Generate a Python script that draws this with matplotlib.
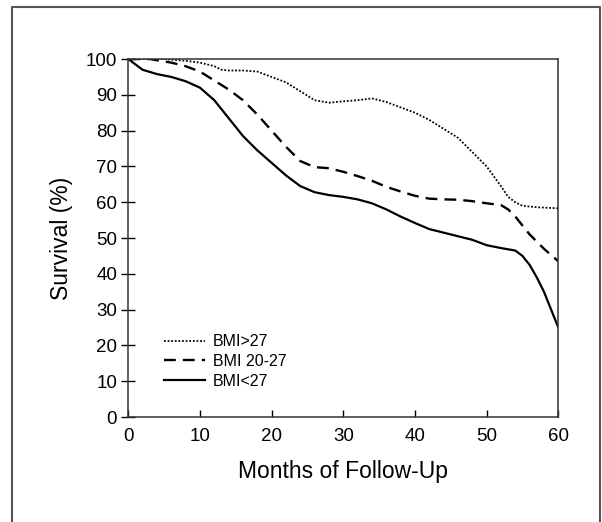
import matplotlib.pyplot as plt
from matplotlib.lines import Line2D

plt.rcParams["font.family"] = ["Liberation Sans", "DejaVu Sans"]

months_low = [0, 2, 4, 6, 8, 10, 12, 14, 16, 18, 20, 22, 24, 26, 28, 30, 32, 34,
              36, 38, 40, 42, 44, 46, 48, 50, 52, 54, 55, 56, 57, 58, 59, 60]
surv_low = [100, 97, 95.8, 95, 93.8, 92, 88.5, 83.5, 78.5, 74.5, 71, 67.5, 64.5,
            62.8, 62, 61.5, 60.8, 59.7, 58, 56, 54.2, 52.5, 51.5, 50.5, 49.5, 48,
            47.2, 46.5, 45, 42.5, 39, 35, 30, 25]

months_mid = [0, 3, 6, 8, 10, 12, 14, 16, 18, 20, 22, 24, 26, 28, 30, 32, 34, 36,
              38, 40, 42, 44, 46, 48, 50, 52, 53, 54, 56, 58, 60]
surv_mid = [100, 100, 99, 98, 96.5, 94, 91.5, 88.5, 84.5, 80, 75.5, 71.5, 69.8,
            69.5, 68.5, 67.3, 66, 64.3, 63, 61.8, 61, 60.8, 60.7, 60.3, 59.7, 59.2,
            58, 56, 51, 47, 43.5]

months_high = [0, 5, 8, 10, 12, 13, 14, 16, 18, 20, 22, 24, 26, 28, 30, 32, 34, 36,
               38, 40, 42, 44, 46, 48, 50, 52, 53, 54, 55, 57, 60]
surv_high = [100, 100, 99.5, 99, 98, 97, 96.8, 96.8, 96.5, 95, 93.5, 91, 88.5,
             87.8, 88.2, 88.5, 89, 88, 86.5, 85, 83, 80.5, 78, 74, 70, 64.5, 61.5,
             60, 59, 58.6, 58.3]

labels = ["BMI>27", "BMI 20-27", "BMI<27"]
x_ticks = [0, 10, 20, 30, 40, 50, 60]
y_ticks = [0, 10, 20, 30, 40, 50, 60, 70, 80, 90, 100]

fig = plt.figure(figsize=(6.02, 5.22), dpi=100)
ax = fig.add_axes([0.2131, 0.2011, 0.7143, 0.6858])

ax.plot(months_high, surv_high, color="black", lw=1.3, ls=(0, (1, 1)), label=labels[0])
ax.plot(months_mid, surv_mid, color="black", lw=1.7, ls=(0, (5, 3)), label=labels[1])
ax.plot(months_low, surv_low, color="black", lw=1.6, ls="-", label=labels[2])

ax.set_xlim(0, 60)
ax.set_ylim(0, 100)
ax.set_xticks(x_ticks)
ax.set_yticks(y_ticks)
ax.tick_params(axis="x", direction="in", length=5, width=1, pad=8, labelsize=13.5)
ax.tick_params(axis="y", direction="inout", length=10, width=1, pad=3, labelsize=13.5)
for spine in ax.spines.values():
    spine.set_linewidth(1.1)
    spine.set_color("#333333")

ax.set_xlabel("Months of Follow-Up", fontsize=16.5, labelpad=11)
ax.set_ylabel("Survival (%)", fontsize=16.5, labelpad=9)

ax.legend(loc="center left", bbox_to_anchor=(0.084, 0.155), frameon=False,
          fontsize=11.5, handlelength=2.55, handletextpad=0.5, labelspacing=0.3,
          borderpad=0, borderaxespad=0)

# outer frame
W, H = 602, 522
fig.add_artist(Line2D([12 / W, 12 / W, 600 / W, 600 / W],
                      [0, 1 - 7 / H, 1 - 7 / H, 0],
                      transform=fig.transFigure, color="#555555", lw=1.5))

fig.savefig("out.png", dpi=100)
